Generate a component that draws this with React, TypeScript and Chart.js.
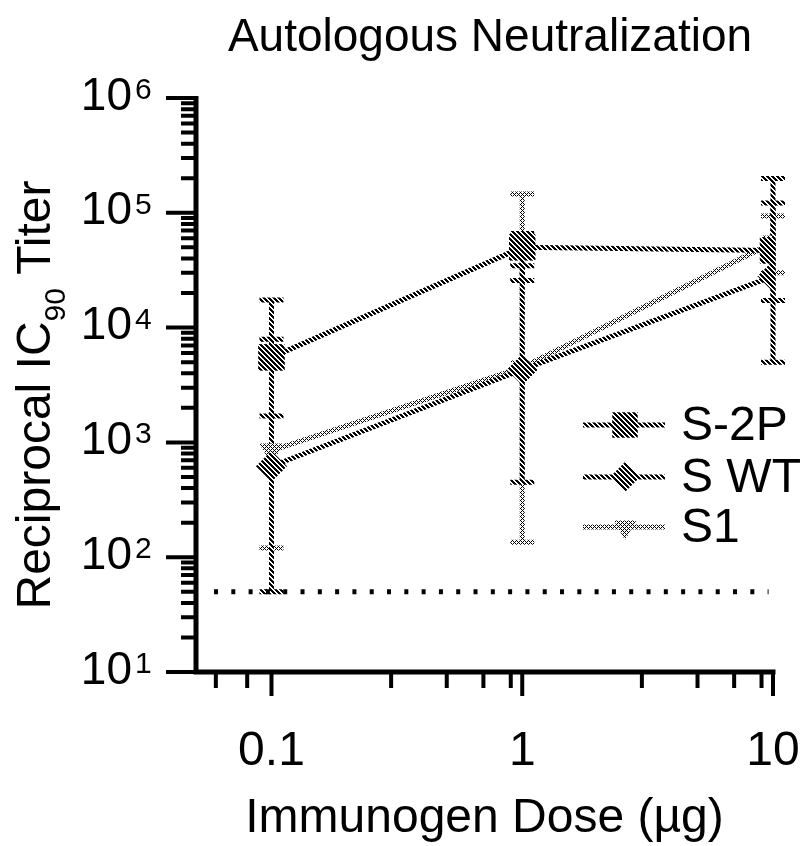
import React, { useEffect, useRef } from 'react';
import { Chart, registerables } from 'chart.js';

Chart.register(...registerables);

// ---- data ----
const doses = [0.1, 1, 10];
const seriesNames = ['S-2P', 'S WT', 'S1'];
const s2pValues = [5500, 50000, 47000];
const s2pLower = [1700, 25700, 17200];
const s2pUpper = [17400, 66000, 122000];
const swtValues = [620, 4300, 28000];
const swtLower = [50, 450, 5000];
const swtUpper = [7900, 34600, 199000];
const s1Values = [850, 4500, 55000];
const s1Lower = [120, 135, 30000];
const s1Upper = [6000, 146000, 94000];
const detectionLimit = 50;
const limitRange = [0.059, 9.6];
const xMajorTicks = [0.1, 1, 10];
const xTickLabels = ['0.1', '1', '10'];
const xMinorTicks = [0.06, 0.08, 0.3, 0.5, 0.7, 0.9, 3, 5, 7, 9];
const yMajorTicks = [10, 100, 1000, 10000, 100000, 1000000];
const yTickBase = '10';
const yTickExponents = ['1', '2', '3', '4', '5', '6'];
const yMinorMultipliers = [2, 3, 4, 5, 6, 7, 8, 9];
const titleText = 'Autologous Neutralization';
const xTitleText = 'Immunogen Dose (µg)';
const yTitleParts = ['Reciprocal IC', '90', ' Titer'];

const FONT = '"Liberation Sans", Arial, Helvetica, sans-serif';

function makePattern(ctx: CanvasRenderingContext2D, kind: 'dark' | 'light'): CanvasPattern | string {
  const n = kind === 'dark' ? 5 : 4;
  const c = document.createElement('canvas');
  c.width = n;
  c.height = n;
  const g = c.getContext('2d');
  if (!g) return kind === 'dark' ? '#555' : '#999';
  g.fillStyle = '#ffffff';
  g.fillRect(0, 0, n, n);
  g.fillStyle = '#000000';
  for (let i = 0; i < n; i++) {
    for (let j = 0; j < n; j++) {
      const on = kind === 'dark'
        ? ((i - j + 2 * n) % n) < 3
        : ((i + j) % 4 === 0 || (i - j + 8) % 4 === 0);
      if (on) g.fillRect(i, j, 1, 1);
    }
  }
  return ctx.createPattern(c, 'repeat') || (kind === 'dark' ? '#555' : '#999');
}

export default function App() {
  const ref = useRef<HTMLCanvasElement>(null);

  useEffect(() => {
    const canvas = ref.current;
    if (!canvas) return;
    const ctx0 = canvas.getContext('2d') as CanvasRenderingContext2D;
    const dark = makePattern(ctx0, 'dark');
    const light = makePattern(ctx0, 'light');

    const series = [
      { label: seriesNames[0], values: s2pValues, lower: s2pLower, upper: s2pUpper, style: 'rect', radius: 18, rotation: 0, color: dark },
      { label: seriesNames[1], values: swtValues, lower: swtLower, upper: swtUpper, style: 'rectRot', radius: 15, rotation: 0, color: dark },
      { label: seriesNames[2], values: s1Values, lower: s1Lower, upper: s1Upper, style: 'triangle', radius: 13, rotation: 180, color: light },
    ];

    const datasets: any[] = series.map((s) => ({
      label: s.label,
      data: doses.map((d, i) => ({ x: d, y: s.values[i] })),
      borderColor: s.color,
      backgroundColor: s.color,
      borderWidth: 5,
      pointStyle: s.style,
      pointRadius: s.radius,
      pointRotation: s.rotation,
      pointBorderWidth: 1,
      pointBorderColor: s.color,
      pointBackgroundColor: s.color,
      tension: 0,
    }));
    datasets.push({
      label: 'limit',
      data: [
        { x: limitRange[0], y: detectionLimit },
        { x: limitRange[1], y: detectionLimit },
      ],
      borderColor: '#000000',
      borderWidth: 5,
      borderDash: [4, 13.3],
      pointRadius: 0,
      order: 10,
    });

    const customPlugin = {
      id: 'customDraw',
      beforeDatasetsDraw(chart: any) {
        const { ctx, scales } = chart;
        const xs = scales.x;
        const ys = scales.y;
        ctx.save();
        ctx.lineCap = 'butt';
        for (let k = series.length - 1; k >= 0; k--) {
          const s = series[k];
          ctx.strokeStyle = s.color;
          ctx.lineWidth = 5;
          doses.forEach((d, i) => {
            const px = xs.getPixelForValue(d);
            const yl = ys.getPixelForValue(s.lower[i]);
            const yu = ys.getPixelForValue(s.upper[i]);
            ctx.beginPath();
            ctx.moveTo(px, yl);
            ctx.lineTo(px, yu);
            ctx.moveTo(px - 12, yl);
            ctx.lineTo(px + 12, yl);
            ctx.moveTo(px - 12, yu);
            ctx.lineTo(px + 12, yu);
            ctx.stroke();
          });
        }
        ctx.restore();
      },
      afterDraw(chart: any) {
        const { ctx, scales, chartArea } = chart;
        const xs = scales.x;
        const ys = scales.y;
        const { left, right, top, bottom } = chartArea;
        ctx.save();
        // axes
        ctx.strokeStyle = '#000';
        ctx.lineWidth = 5;
        ctx.lineCap = 'butt';
        ctx.beginPath();
        ctx.moveTo(left, top - 2);
        ctx.lineTo(left, bottom + 2.5);
        ctx.moveTo(left - 2.5, bottom);
        ctx.lineTo(right + 2.5, bottom);
        ctx.stroke();
        // y ticks
        ctx.lineWidth = 4;
        ctx.beginPath();
        yMajorTicks.forEach((v, idx) => {
          const py = ys.getPixelForValue(v);
          ctx.moveTo(left - 30, py);
          ctx.lineTo(left, py);
          if (idx < yMajorTicks.length - 1) {
            yMinorMultipliers.forEach((m) => {
              const pm = ys.getPixelForValue(v * m);
              ctx.moveTo(left - 15, pm);
              ctx.lineTo(left, pm);
            });
          }
        });
        // x ticks
        xMajorTicks.forEach((v) => {
          const px = xs.getPixelForValue(v);
          ctx.moveTo(px, bottom);
          ctx.lineTo(px, bottom + 24);
        });
        xMinorTicks.forEach((v) => {
          const px = xs.getPixelForValue(v);
          ctx.moveTo(px, bottom);
          ctx.lineTo(px, bottom + 16);
        });
        ctx.stroke();

        ctx.fillStyle = '#000';
        // y tick labels
        yMajorTicks.forEach((v, idx) => {
          const py = ys.getPixelForValue(v);
          ctx.font = `46px ${FONT}`;
          ctx.textAlign = 'right';
          ctx.textBaseline = 'middle';
          ctx.fillText(yTickBase, 132, py - 1);
          ctx.font = `30px ${FONT}`;
          ctx.textAlign = 'left';
          ctx.textBaseline = 'alphabetic';
          ctx.fillText(yTickExponents[idx], 135, py + 1);
        });
        // x tick labels
        ctx.font = `48px ${FONT}`;
        ctx.textAlign = 'center';
        ctx.textBaseline = 'alphabetic';
        xMajorTicks.forEach((v, idx) => {
          const px = xs.getPixelForValue(v);
          ctx.fillText(xTickLabels[idx], px, 765);
        });
        // x title
        ctx.fillText(xTitleText, (left + right) / 2, 832);
        // title
        ctx.font = `46px ${FONT}`;
        ctx.fillText(titleText, 490, 51);
        // y title
        ctx.save();
        ctx.translate(50, 395);
        ctx.rotate(-Math.PI / 2);
        ctx.textAlign = 'left';
        const big = `48px ${FONT}`;
        const small = `30px ${FONT}`;
        ctx.font = big;
        const w0 = ctx.measureText(yTitleParts[0]).width;
        const w2 = ctx.measureText(yTitleParts[2]).width;
        ctx.font = small;
        const w1 = ctx.measureText(yTitleParts[1]).width;
        let cx = -(w0 + w1 + w2) / 2;
        ctx.font = big;
        ctx.fillText(yTitleParts[0], cx, 0);
        cx += w0;
        ctx.font = small;
        ctx.fillText(yTitleParts[1], cx, 15);
        cx += w1;
        ctx.font = big;
        ctx.fillText(yTitleParts[2], cx, 0);
        ctx.restore();

        // legend
        const rows = [425, 477, 527];
        series.forEach((s, i) => {
          const ry = rows[i];
          ctx.strokeStyle = s.color;
          ctx.fillStyle = s.color;
          ctx.lineWidth = 5;
          ctx.beginPath();
          ctx.moveTo(583, ry);
          ctx.lineTo(665, ry);
          ctx.stroke();
          const mx = 625;
          ctx.beginPath();
          if (s.style === 'rect') {
            const h = s.radius * Math.SQRT1_2;
            ctx.rect(mx - h, ry - h, 2 * h, 2 * h);
          } else if (s.style === 'rectRot') {
            ctx.moveTo(mx, ry - s.radius);
            ctx.lineTo(mx + s.radius, ry);
            ctx.lineTo(mx, ry + s.radius);
            ctx.lineTo(mx - s.radius, ry);
            ctx.closePath();
          } else {
            const r = s.radius;
            ctx.moveTo(mx - r * 0.866, ry - r * 0.5);
            ctx.lineTo(mx + r * 0.866, ry - r * 0.5);
            ctx.lineTo(mx, ry + r);
            ctx.closePath();
          }
          ctx.fill();
          ctx.fillStyle = '#000';
          ctx.font = `48px ${FONT}`;
          ctx.textAlign = 'left';
          ctx.textBaseline = 'middle';
          ctx.fillText(s.label, 681, ry + 2);
        });
        ctx.restore();
      },
    };

    const chart = new Chart(canvas, {
      type: 'line',
      data: { datasets },
      options: {
        responsive: false,
        animation: false,
        maintainAspectRatio: false,
        layout: { padding: { left: 0, right: 28, top: 98, bottom: 0 } },
        plugins: {
          legend: { display: false },
          title: { display: false },
          tooltip: { enabled: false },
        },
        scales: {
          x: {
            type: 'logarithmic',
            min: 0.05,
            max: 10,
            grid: { display: false },
            border: { display: false },
            ticks: { display: false },
            afterFit: (scale: any) => { scale.height = 174; },
          },
          y: {
            type: 'logarithmic',
            min: 10,
            max: 1000000,
            grid: { display: false },
            border: { display: false },
            ticks: { display: false },
            afterFit: (scale: any) => { scale.width = 196; },
          },
        },
      },
      plugins: [customPlugin],
    } as any);

    return () => chart.destroy();
  }, []);

  return (
    <div style={{ position: 'absolute', left: 0, top: 0, width: 801, height: 846, background: '#fff' }}>
      <canvas ref={ref} width={801} height={846} style={{ display: 'block', width: 801, height: 846 }} />
    </div>
  );
}
